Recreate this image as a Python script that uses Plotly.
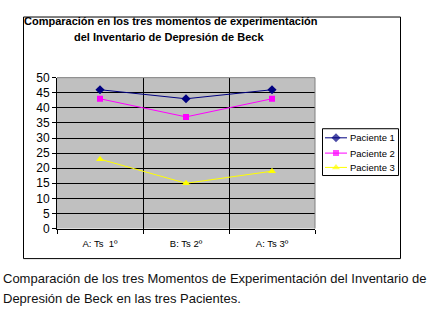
import plotly.graph_objects as go

# ---- data ----
momentos = ["A: Ts  1º", "B: Ts 2º", "A: Ts 3º"]
paciente1 = [46, 43, 46]
paciente2 = [43, 37, 43]
paciente3 = [23, 15, 19]
series_names = ["Paciente 1", "Paciente 2", "Paciente 3"]
y_ticks = list(range(0, 51, 5))

W, H = 429, 310
def px(x):
    return x / W
def py(y):
    return 1 - y / H

FONT = "Liberation Sans, Arial, sans-serif"
colors = ["#000080", "#FF00FF", "#FFFF00"]
symbols = ["diamond", "square", "triangle-up"]
sizes = [7, 6, 7]
values = [paciente1, paciente2, paciente3]

PL, PR, PT, PB = 57, 315, 74, 232  # plot area in pixels

fig = go.Figure()
for name, vals, c, s, sz in zip(series_names, values, colors, symbols, sizes):
    fig.add_trace(go.Scatter(
        x=momentos, y=vals, mode="lines+markers", name=name,
        line=dict(color=c, width=1),
        marker=dict(color=c, symbol=s, size=sz, line=dict(width=0)),
        showlegend=False, xaxis="x", yaxis="y"))

# custom legend samples (legend-box pixel coordinates)
leg_rows = [137, 153, 168]
for name, c, s, sz, ry in zip(series_names, colors, symbols, sizes, leg_rows):
    fig.add_trace(go.Scatter(
        x=[325, 336, 347], y=[ry, ry, ry], mode="lines+markers",
        line=dict(color=c, width=1),
        marker=dict(color=c, symbol=s, size=[0, sz, 0], line=dict(width=0)),
        showlegend=False, hoverinfo="skip", xaxis="x3", yaxis="y3"))

annotations = []
for name, ry in zip(series_names, leg_rows):
    annotations.append(dict(x=348, y=ry, xref="x3", yref="y3", text=name,
                            showarrow=False, xanchor="left", yanchor="middle",
                            font=dict(family=FONT, size=9.5, color="black")))

# title
annotations.append(dict(x=px(171), y=py(15), xref="paper", yref="paper",
                        text="<b>Comparación en los tres momentos de experimentación</b>",
                        showarrow=False, xanchor="center", yanchor="middle",
                        font=dict(family=FONT, size=11, color="black")))
annotations.append(dict(x=px(169), y=py(31), xref="paper", yref="paper",
                        text="<b>del Inventario de Depresión de Beck</b>",
                        showarrow=False, xanchor="center", yanchor="middle",
                        font=dict(family=FONT, size=11, color="black")))
# caption
annotations.append(dict(x=px(1), y=py(284), xref="paper", yref="paper",
                        text="Comparación de los tres Momentos de Experimentación del Inventario de",
                        showarrow=False, xanchor="left", yanchor="middle",
                        font=dict(family=FONT, size=13, color="#111111")))
annotations.append(dict(x=px(1), y=py(305), xref="paper", yref="paper",
                        text="Depresión de Beck en las tres Pacientes.",
                        showarrow=False, xanchor="left", yanchor="middle",
                        font=dict(family=FONT, size=13, color="#111111")))

shapes = [
    # outer chart frame
    dict(type="rect", xref="paper", yref="paper", x0=px(23.5), x1=px(400.5),
         y0=py(263.5), y1=py(10.5), line=dict(color="black", width=1), layer="below"),
    # gray top and right border of plot area
    dict(type="line", xref="paper", yref="paper", x0=px(PL), x1=px(PR),
         y0=py(PT), y1=py(PT), line=dict(color="#808080", width=1)),
    dict(type="line", xref="paper", yref="paper", x0=px(PR), x1=px(PR),
         y0=py(PT), y1=py(PB), line=dict(color="#808080", width=1)),
    # legend box
    dict(type="rect", xref="paper", yref="paper", x0=px(322.5), x1=px(398.5),
         y0=py(176.5), y1=py(127.5), line=dict(color="black", width=1),
         fillcolor="white", layer="below"),
]

fig.update_layout(
    width=W, height=H,
    margin=dict(l=0, r=0, t=0, b=0),
    paper_bgcolor="white",
    plot_bgcolor="#c0c0c0",
    font=dict(family=FONT, color="black"),
    showlegend=False,
    xaxis=dict(domain=[px(PL), px(PR)], anchor="y", type="category",
               range=[-0.5, 2.5], tickson="boundaries",
               showgrid=True, gridcolor="black", gridwidth=1,
               showline=True, linecolor="black", linewidth=1,
               ticks="outside", ticklen=4, tickcolor="black",
               ticklabelstandoff=6,
               tickfont=dict(family=FONT, size=9.5, color="black"),
               fixedrange=True),
    yaxis=dict(domain=[py(PB), py(PT)], anchor="x", range=[0, 50],
               tickvals=y_ticks, showgrid=True, gridcolor="black", gridwidth=1,
               zeroline=False, showline=True, linecolor="black", linewidth=1,
               ticks="outside", ticklen=4, tickcolor="black",
               tickfont=dict(family=FONT, size=12, color="black"),
               fixedrange=True),
    xaxis3=dict(domain=[px(322), px(398)], anchor="y3", range=[322, 398],
                visible=False, fixedrange=True),
    yaxis3=dict(domain=[py(176), py(127)], anchor="x3", range=[176, 127],
                visible=False, fixedrange=True),
    annotations=annotations,
    shapes=shapes,
)

fig.write_html("out.html", config={"displayModeBar": False},
               post_script="document.body.style.margin='0';document.body.style.padding='0';")
